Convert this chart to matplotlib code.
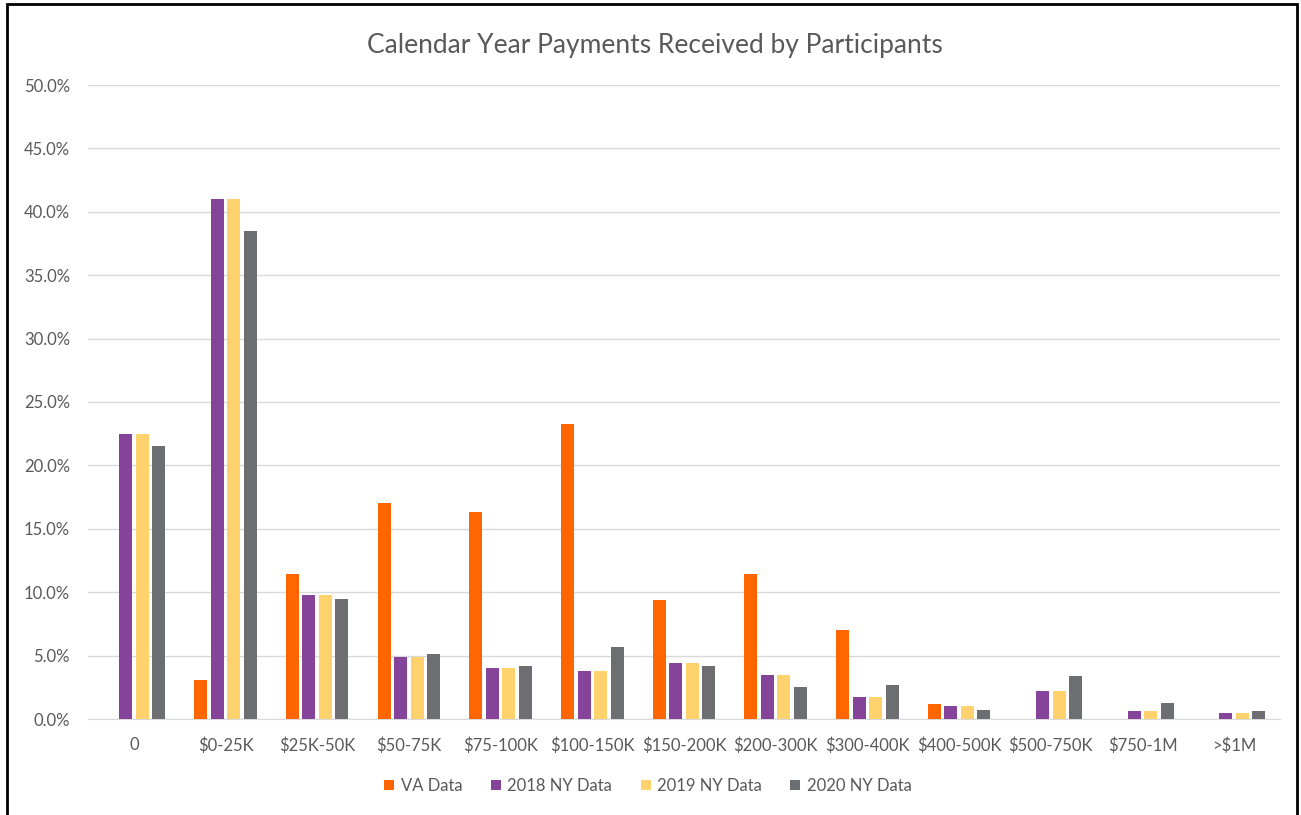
import matplotlib.pyplot as plt
import numpy as np
from matplotlib.patches import Rectangle
from matplotlib.ticker import PercentFormatter

plt.rcParams['font.family'] = ['Lato', 'DejaVu Sans']

categories = ['0', '$0-25K', '$25K-50K', '$50-75K', '$75-100K', '$100-150K', '$150-200K',
              '$200-300K', '$300-400K', '$400-500K', '$500-750K', '$750-1M', '>$1M']
va_data = [0, 3.1, 11.4, 17.0, 16.3, 23.3, 9.4, 11.4, 7.0, 1.2, 0, 0, 0]
ny_2018 = [22.5, 41.0, 9.8, 4.9, 4.0, 3.8, 4.4, 3.5, 1.7, 1.0, 2.2, 0.65, 0.5]
ny_2019 = [22.5, 41.0, 9.8, 4.9, 4.0, 3.8, 4.4, 3.5, 1.7, 1.0, 2.2, 0.65, 0.5]
ny_2020 = [21.5, 38.5, 9.5, 5.1, 4.2, 5.7, 4.2, 2.5, 2.7, 0.7, 3.4, 1.3, 0.6]

series = [('VA Data', va_data, '#FF6600'),
          ('2018 NY Data', ny_2018, '#85439A'),
          ('2019 NY Data', ny_2019, '#FFD26E'),
          ('2020 NY Data', ny_2020, '#6D6E71')]

fig = plt.figure(figsize=(13.01, 8.15), dpi=100)
ax = fig.add_axes([88 / 1301, 1 - 719 / 815, 1192 / 1301, 634 / 815])

x = np.arange(len(categories))
step = 0.18
width = 0.142
for i, (name, vals, color) in enumerate(series):
    ax.bar(x + (i - 1.5) * step, vals, width, color=color, label=name, zorder=3)

ax.set_xlim(-0.5, len(categories) - 0.5)
ax.set_ylim(0, 50)
ax.set_yticks(np.arange(0, 50.1, 5))
ax.yaxis.set_major_formatter(PercentFormatter(decimals=1))
ax.set_xticks(x)
ax.set_xticklabels(categories)
ax.grid(axis='y', color='#D9D9D9', linewidth=1, zorder=0)
for s in ['top', 'right', 'left']:
    ax.spines[s].set_visible(False)
ax.spines['bottom'].set_color('#D9D9D9')
ax.tick_params(axis='both', length=0, labelsize=12, colors='#595959')
ax.tick_params(axis='x', pad=13)
ax.tick_params(axis='y', pad=13)

fig.text(655 / 1301, 1 - 45 / 815, 'Calendar Year Payments Received by Participants',
         ha='center', va='center', fontsize=19, color='#595959')

leg = fig.legend(loc='center', bbox_to_anchor=(648 / 1301, 1 - 786 / 815), ncol=4,
                 frameon=False, fontsize=12, handlelength=0.6, handleheight=0.6,
                 handletextpad=0.4, columnspacing=1.7)
for t in leg.get_texts():
    t.set_color('#595959')

fig.patches.append(Rectangle((7 / 1301, -0.01), 1290 / 1301, 1 - 4 / 815 + 0.01,
                             transform=fig.transFigure, fill=False,
                             edgecolor='black', linewidth=2))

fig.savefig('out.png', dpi=100)
